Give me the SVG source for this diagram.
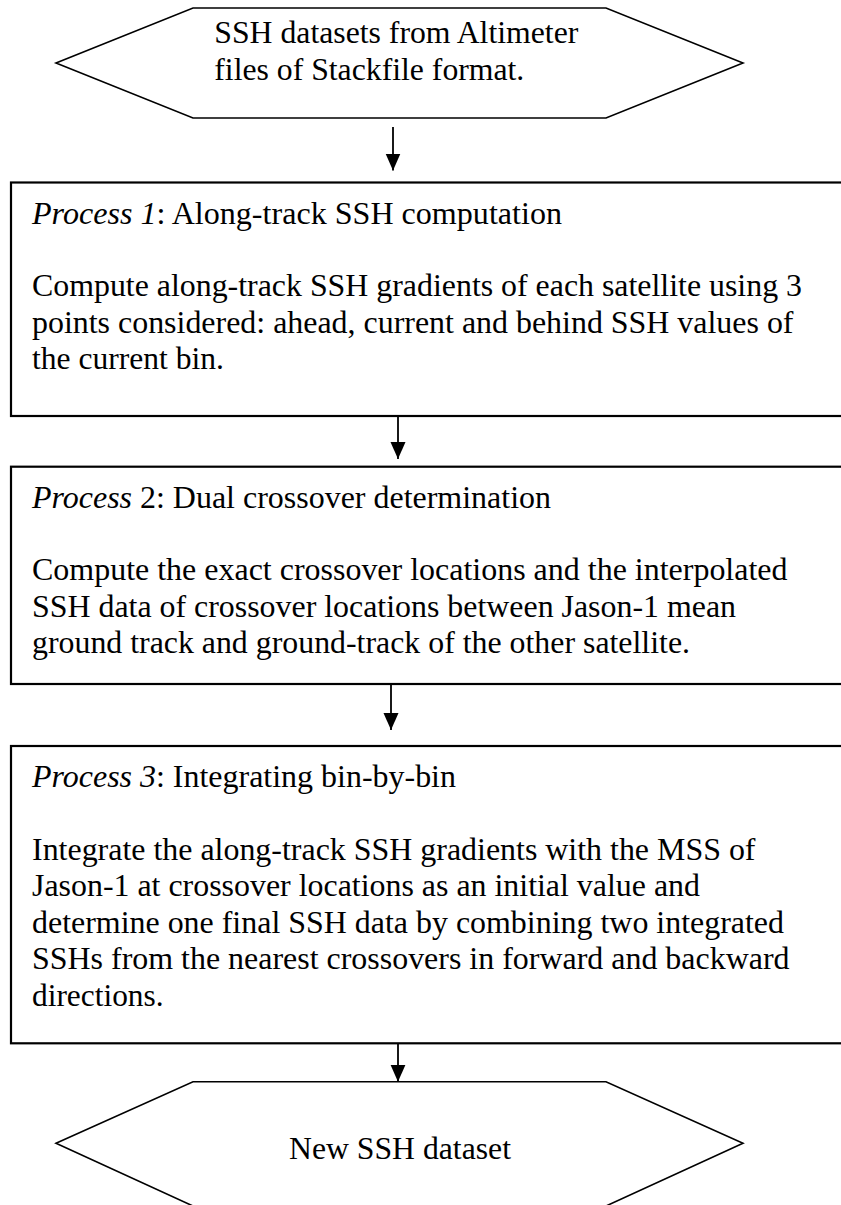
<svg xmlns="http://www.w3.org/2000/svg" width="841" height="1205" viewBox="0 0 841 1205">
<style>
.shape{fill:#ffffff;stroke:#000000;stroke-width:1.6}
.box{fill:#ffffff;stroke:#000000;stroke-width:2.2}
.t{font-family:"Liberation Serif","Times New Roman",serif;font-size:31.5px;fill:#000000}
.it{font-style:italic}
.conn{stroke:#000000;stroke-width:1.8;fill:none}
</style>
<defs>
<marker id="ah" markerUnits="userSpaceOnUse" markerWidth="18" markerHeight="16" refX="17" refY="7.5" orient="auto">
<path d="M0,0 L17,7.5 L0,15 z" fill="#000000"/>
</marker>
</defs>
<rect width="841" height="1205" fill="#ffffff"/>
<g id="node-start">
<polygon class="shape" points="56,63 193,8 606,8 743,63 606,118 193,118"/>
<text class="t" x="214.3" y="43" textLength="364" lengthAdjust="spacingAndGlyphs">SSH datasets from Altimeter</text>
<text class="t" x="214.3" y="79.5" textLength="310" lengthAdjust="spacingAndGlyphs">files of Stackfile format.</text>
</g>
<g id="node-process1">
<rect class="box" x="11" y="182.5" width="845" height="233.5"/>
<text class="t" x="32" y="223.5" textLength="530" lengthAdjust="spacingAndGlyphs"><tspan class="it">Process 1</tspan>: Along-track SSH computation</text>
<text class="t" x="32" y="296" textLength="770" lengthAdjust="spacingAndGlyphs">Compute along-track SSH gradients of each satellite using 3</text>
<text class="t" x="32" y="332.5" textLength="761.5" lengthAdjust="spacingAndGlyphs">points considered: ahead, current and behind SSH values of</text>
<text class="t" x="32" y="369" textLength="192" lengthAdjust="spacingAndGlyphs">the current bin.</text>
</g>
<g id="node-process2">
<rect class="box" x="11" y="466.7" width="845" height="217.3"/>
<text class="t" x="32" y="507.5" textLength="519" lengthAdjust="spacingAndGlyphs"><tspan class="it">Process</tspan> 2: Dual crossover determination</text>
<text class="t" x="32" y="580" textLength="755.5" lengthAdjust="spacingAndGlyphs">Compute the exact crossover locations and the interpolated</text>
<text class="t" x="32" y="616.5" textLength="704" lengthAdjust="spacingAndGlyphs">SSH data of crossover locations between Jason-1 mean</text>
<text class="t" x="32" y="653" textLength="658" lengthAdjust="spacingAndGlyphs">ground track and ground-track of the other satellite.</text>
</g>
<g id="node-process3">
<rect class="box" x="11" y="746" width="845" height="297.3"/>
<text class="t" x="32" y="786.5" textLength="424" lengthAdjust="spacingAndGlyphs"><tspan class="it">Process 3</tspan>: Integrating bin-by-bin</text>
<text class="t" x="32" y="859.5" textLength="723.5" lengthAdjust="spacingAndGlyphs">Integrate the along-track SSH gradients with the MSS of</text>
<text class="t" x="32" y="896" textLength="668" lengthAdjust="spacingAndGlyphs">Jason-1 at crossover locations as an initial value and</text>
<text class="t" x="32" y="932.8" textLength="752" lengthAdjust="spacingAndGlyphs">determine one final SSH data by combining two integrated</text>
<text class="t" x="32" y="969.3" textLength="757.5" lengthAdjust="spacingAndGlyphs">SSHs from the nearest crossovers in forward and backward</text>
<text class="t" x="32" y="1006" textLength="131.6" lengthAdjust="spacingAndGlyphs">directions.</text>
</g>
<g id="node-end">
<polygon class="shape" points="56,1143.3 193,1081.7 606,1081.7 743,1143.3 606,1206 193,1206"/>
<text class="t" x="289" y="1158.5" textLength="222" lengthAdjust="spacingAndGlyphs">New SSH dataset</text>
</g>
<g id="connectors">
<line class="conn" x1="393" y1="127" x2="393" y2="170.5" marker-end="url(#ah)"/>
<line class="conn" x1="398" y1="416" x2="398" y2="459" marker-end="url(#ah)"/>
<line class="conn" x1="391" y1="684" x2="391" y2="730" marker-end="url(#ah)"/>
<line class="conn" x1="398" y1="1043.3" x2="398" y2="1081.7" marker-end="url(#ah)"/>
</g>
</svg>
